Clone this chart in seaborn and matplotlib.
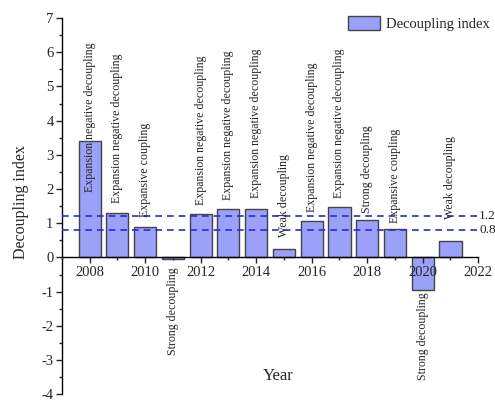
"""Decoupling index by year, bar chart with state labels."""
import pandas as pd
import numpy as np
import matplotlib
matplotlib.use("Agg")
import matplotlib.pyplot as plt
import matplotlib.ticker as ticker
import seaborn as sns

sns.set_theme(style="ticks")
plt.rcParams["font.family"] = ["Liberation Serif", "DejaVu Serif"]
plt.rcParams["xtick.direction"] = "out"
plt.rcParams["ytick.direction"] = "out"
plt.rcParams["axes.unicode_minus"] = False

# ── data ──────────────────────────────────────────────────────────────────────
years = [2008, 2009, 2010, 2011, 2012, 2013, 2014,
         2015, 2016, 2017, 2018, 2019, 2020, 2021]
index_vals = [3.40, 1.30, 0.90, -0.05, 1.26, 1.42, 1.43,
              0.26, 1.07, 1.46, 1.10, 0.82, -0.94, 0.47]
states = ["Expansion negative decoupling", "Expansion negative decoupling",
          "Expansive coupling", "Strong decoupling",
          "Expansion negative decoupling", "Expansion negative decoupling",
          "Expansion negative decoupling", "Weak decoupling",
          "Expansion negative decoupling", "Expansion negative decoupling",
          "Strong decoupling", "Expansive coupling",
          "Strong decoupling", "Weak decoupling"]
thresholds = [1.2, 0.8]

df = pd.DataFrame({"year": years, "index": index_vals, "state": states})

# label gap from bar end (data units)
label_gap = [-1.48, 0.29, 0.27, 0.24, 0.28, 0.27, 0.32,
             0.35, 0.26, 0.29, 0.21, 0.19, 0.08, 0.64]

BAR_COLOR = "#9ba1f8"
LINE_COLOR = "#2b2bd0"

# ── plot ──────────────────────────────────────────────────────────────────────
fig = plt.figure(figsize=(4.95, 4.01), dpi=100)
ax = fig.add_axes([0.125, 0.017, 0.841, 0.938])

sns.barplot(data=df, x="year", y="index", native_scale=True, width=0.8,
            color=BAR_COLOR, saturation=1, edgecolor="#444444", linewidth=1.0,
            label="Decoupling index", ax=ax)

for th in thresholds:
    ax.hlines(th, 2007, 2022, colors=LINE_COLOR, linestyles=(0, (4, 3)),
              linewidth=1.2, zorder=3)
    ax.text(2022.03, th, f"{th:.1f}", ha="left", va="center", fontsize=9.5,
            clip_on=False)

for yr, v, st, gap in zip(years, index_vals, states, label_gap):
    if v >= 0:
        ax.text(yr, v + gap, st, rotation=90, ha="center", va="bottom",
                fontsize=8.6, zorder=4)
    else:
        ax.text(yr, v - gap, st, rotation=90, ha="center", va="top",
                fontsize=8.6, zorder=4)

ax.set_xlim(2007, 2022)
ax.set_ylim(-4, 7)
ax.xaxis.set_major_locator(ticker.MultipleLocator(2))
ax.xaxis.set_minor_locator(ticker.MultipleLocator(1))
ax.xaxis.set_major_formatter(ticker.FormatStrFormatter("%d"))
ax.yaxis.set_major_locator(ticker.MultipleLocator(1))
ax.yaxis.set_minor_locator(ticker.MultipleLocator(0.5))
ax.tick_params(axis="both", which="major", length=4, width=1, labelsize=10.5,
               pad=2)
ax.tick_params(axis="both", which="minor", length=2.5, width=1)
ax.xaxis.set_zorder(5)

for s in ("top", "right"):
    ax.spines[s].set_visible(False)
ax.spines["bottom"].set_position(("data", 0))
ax.spines["bottom"].set_zorder(5)
for s in ("left", "bottom"):
    ax.spines[s].set_linewidth(1)
    ax.spines[s].set_color("black")

ax.set_xlabel("Year", fontsize=12)
ax.xaxis.set_label_coords(0.52, 0.07)
ax.set_ylabel("Decoupling index", fontsize=11.5)
ax.yaxis.set_label_coords(-0.078, 0.51)

ax.legend(loc="upper right", bbox_to_anchor=(1.06, 1.04), frameon=False,
          fontsize=10.5, handlelength=2.2, handleheight=1.1, handletextpad=0.4)

plt.savefig("out.png", dpi=100)
plt.close()
